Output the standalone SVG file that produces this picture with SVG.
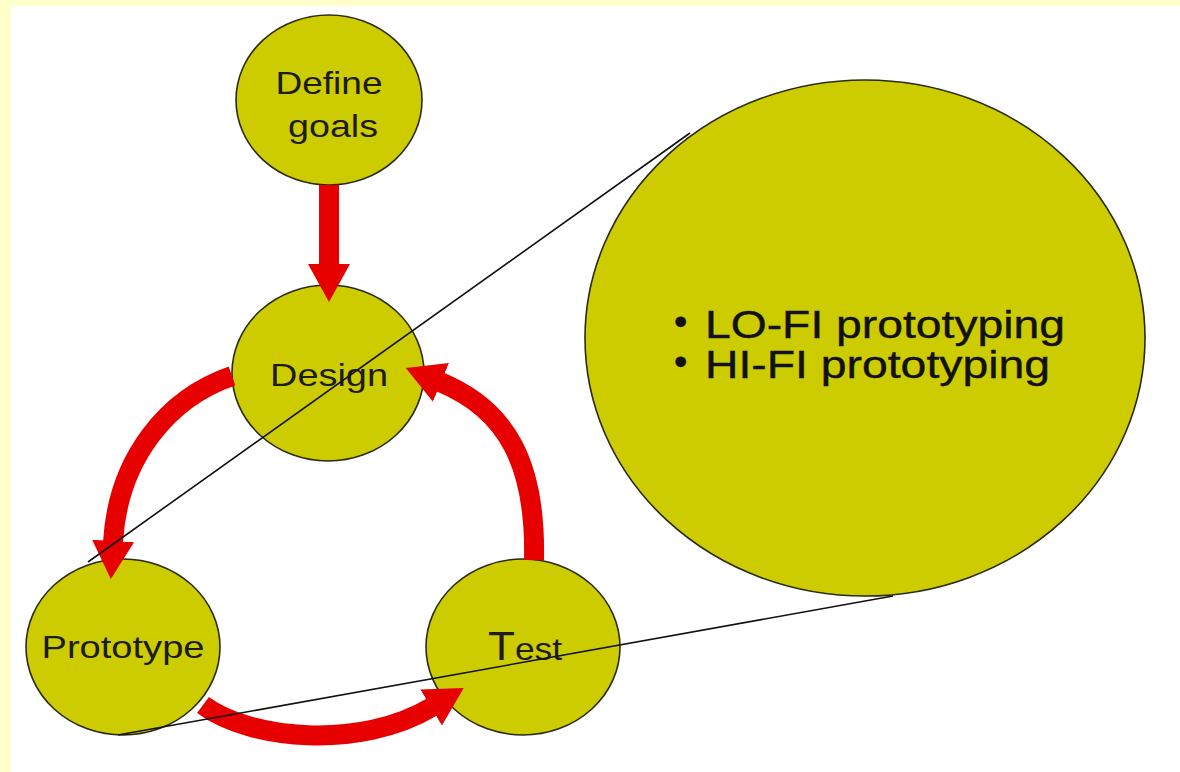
<svg xmlns="http://www.w3.org/2000/svg" width="1180" height="772" viewBox="0 0 1180 772">
  <style>
    .node { fill: #CCCC00; stroke: #2a2a10; stroke-width: 1.6; }
    .label { font-family: "Liberation Sans", Arial, sans-serif; font-size: 32px; fill: #1c1c1c; text-anchor: middle; }
    .big { font-family: "Liberation Sans", Arial, sans-serif; font-size: 38px; fill: #111; stroke: #111; stroke-width: 0.4; }
    .flow { fill: none; stroke: #E60000; stroke-width: 20; stroke-linecap: butt; }
    .zoomline { stroke: #111; stroke-width: 1.6; fill: none; }
  </style>
  <defs>
    <marker id="head" markerUnits="userSpaceOnUse" markerWidth="40" markerHeight="44" viewBox="0 -22 40 44" refX="1" refY="0" orient="auto">
      <path d="M0,-21 L38,0 L0,21 z" fill="#E60000"/>
    </marker>
  </defs>

  <!-- page frame -->
  <rect x="0" y="0" width="1180" height="772" fill="#FFFFCC"/>
  <rect x="11" y="6" width="1169" height="766" fill="#FFFFFF"/>

  <!-- nodes -->
  <g id="define-goals">
    <ellipse class="node" cx="329" cy="100" rx="93" ry="85"/>
    <text class="label" x="329" y="94" textLength="107" lengthAdjust="spacingAndGlyphs">Define</text>
    <text class="label" x="333" y="137" textLength="90" lengthAdjust="spacingAndGlyphs">goals</text>
  </g>
  <g id="design">
    <ellipse class="node" cx="328" cy="373" rx="96" ry="88"/>
    <text class="label" x="329" y="386" textLength="118" lengthAdjust="spacingAndGlyphs">Design</text>
  </g>
  <g id="prototype">
    <ellipse class="node" cx="123" cy="647" rx="97" ry="88"/>
    <text class="label" x="123" y="658" textLength="163" lengthAdjust="spacingAndGlyphs">Prototype</text>
  </g>
  <g id="test">
    <ellipse class="node" cx="523" cy="647" rx="97" ry="88"/>
    <text class="label" x="525" y="660" textLength="74" lengthAdjust="spacingAndGlyphs"><tspan font-size="40px">T</tspan>est</text>
  </g>
  <g id="prototyping-detail">
    <ellipse class="node" cx="865" cy="338" rx="280" ry="258"/>
    <text class="big" x="674" y="335">•</text>
    <text class="big" x="705" y="338" textLength="360" lengthAdjust="spacingAndGlyphs">LO-FI prototyping</text>
    <text class="big" x="674" y="375">•</text>
    <text class="big" x="705" y="378" textLength="345" lengthAdjust="spacingAndGlyphs">HI-FI prototyping</text>
  </g>

  <!-- connectors -->
  <g id="connectors">
    <path class="flow" d="M329,185 L329,265" marker-end="url(#head)"/>
    <path class="flow" d="M232,376 C168,398 118,458 113,542" marker-end="url(#head)"/>
    <path class="flow" d="M534,560 C536,465 508,410 440,382" marker-end="url(#head)"/>
    <path class="flow" d="M203,705 C250,740 360,750 432,707" marker-end="url(#head)"/>
    <line class="zoomline" x1="88" y1="562" x2="690" y2="133"/>
    <line class="zoomline" x1="118" y1="735" x2="893" y2="596"/>
  </g>
</svg>
